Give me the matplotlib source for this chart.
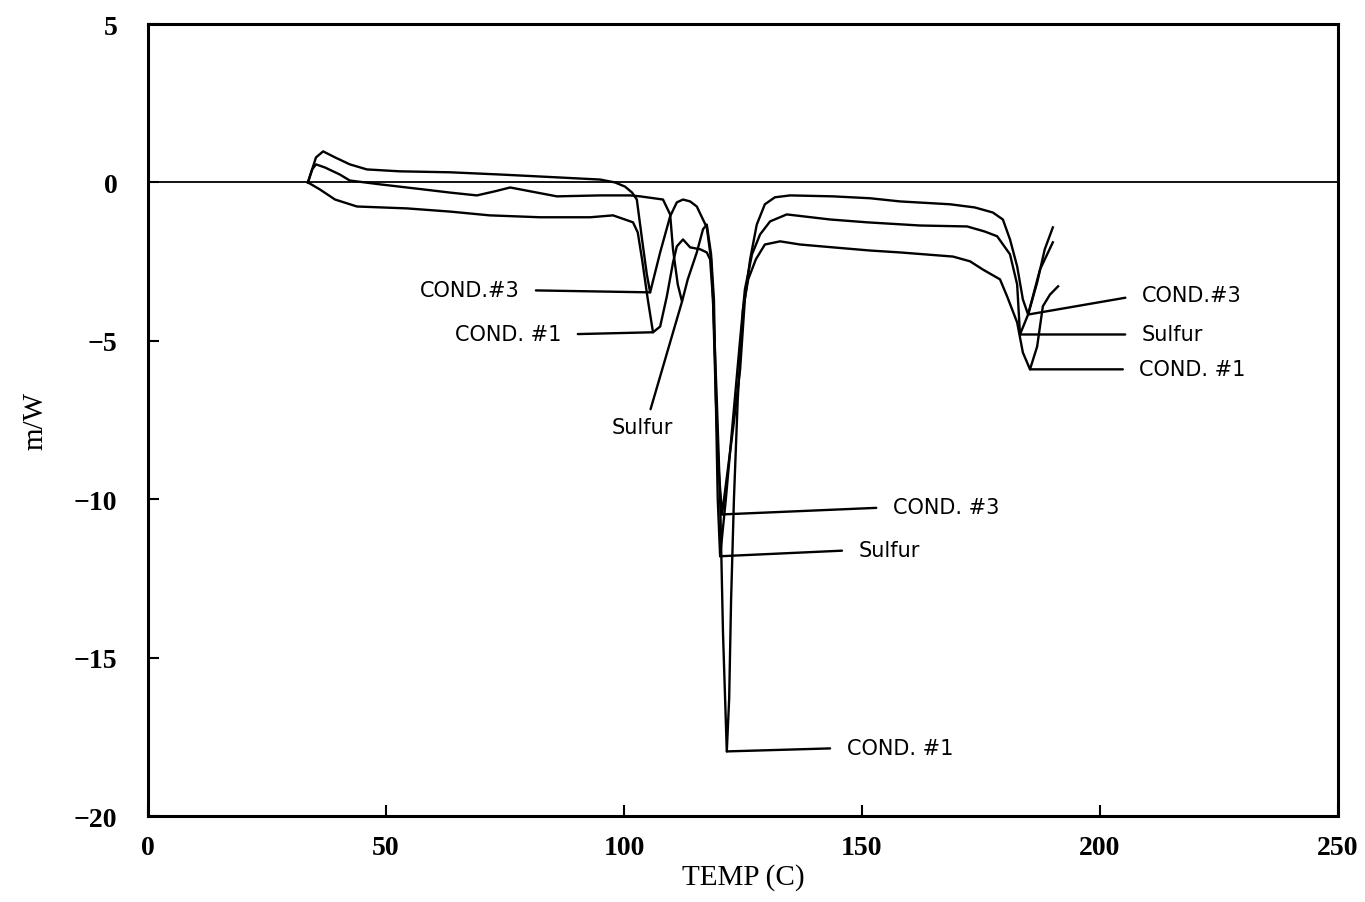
import matplotlib
matplotlib.use("Agg")
import matplotlib.pyplot as plt

# -----------------------------
# Data (TEMP in C, signal in m/W)
# -----------------------------
cond3_temp = [33.6, 35.3, 36.8, 39.3, 42.4, 46.0, 52.9, 63.4, 73.9, 85.9, 95.0, 98.1,
              100.2, 101.7, 102.7, 103.8, 104.8, 105.5, 107.6, 109.7, 111.1, 112.4,
              113.9, 115.3, 116.6, 117.4, 118.3, 118.7, 119.3, 119.9, 120.6, 122.9,
              124.4, 125.4, 126.5, 127.9, 129.6, 131.7, 134.9, 143.9, 151.7, 158.0,
              168.5, 173.7, 177.5, 179.6, 181.1, 182.6, 183.8, 184.9, 186.8, 188.4, 190.1]
cond3_val = [0.0, 0.79, 0.98, 0.79, 0.57, 0.41, 0.35, 0.32, 0.25, 0.16, 0.09, 0.0,
             -0.13, -0.32, -0.54, -1.8, -2.9, -3.47, -2.21, -1.07, -0.63, -0.54,
             -0.6, -0.76, -1.17, -1.42, -2.43, -3.69, -6.85, -9.06, -10.48, -7.8,
             -5.9, -3.69, -2.43, -1.33, -0.69, -0.47, -0.41, -0.44, -0.5, -0.6,
             -0.69, -0.79, -0.95, -1.17, -1.8, -2.65, -3.69, -4.17, -3.16, -2.11, -1.42]

sulfur_temp = [33.6, 34.5, 35.3, 37.2, 40.3, 42.4, 48.7, 57.8, 63.4, 69.1, 72.9, 76.1,
               80.3, 85.9, 95.0, 101.3, 103.4, 108.2, 109.7, 110.3, 111.3, 112.2,
               113.4, 115.3, 116.6, 117.4, 118.3, 118.9, 119.3, 119.7, 120.2, 121.4,
               122.9, 124.4, 125.4, 126.9, 128.6, 130.7, 134.2, 143.3, 151.1, 162.2,
               172.1, 175.8, 178.4, 181.1, 182.6, 183.2, 184.9, 187.4, 190.1]
sulfur_val = [0.0, 0.41, 0.57, 0.47, 0.25, 0.06, -0.06, -0.22, -0.32, -0.41, -0.28, -0.16,
              -0.28, -0.44, -0.41, -0.41, -0.44, -0.54, -1.01, -2.11, -3.22, -3.76,
              -3.06, -2.21, -1.48, -1.33, -2.27, -3.69, -6.85, -10.0, -11.8, -10.0,
              -7.48, -4.96, -3.38, -2.27, -1.64, -1.23, -1.01, -1.17, -1.26, -1.36,
              -1.39, -1.55, -1.7, -2.27, -3.22, -4.8, -4.17, -2.75, -1.89]

cond1_temp = [33.6, 36.1, 39.3, 43.9, 54.4, 63.4, 71.8, 82.4, 92.9, 97.7, 100.2, 101.9,
              102.9, 103.8, 105.0, 106.1, 107.6, 109.0, 110.3, 111.1, 112.4, 113.9,
              116.0, 117.4, 118.1, 118.7, 119.5, 120.2, 120.8, 121.6, 122.1, 122.5,
              123.1, 123.9, 125.0, 126.1, 127.7, 129.6, 132.8, 137.0, 143.9, 151.7,
              158.0, 169.1, 172.7, 175.4, 179.0, 180.5, 182.6, 183.8, 185.3, 186.8,
              188.0, 189.5, 191.2]
cond1_val = [0.0, -0.22, -0.54, -0.76, -0.82, -0.92, -1.04, -1.1, -1.1, -1.04, -1.17, -1.26,
             -1.58, -2.43, -3.69, -4.73, -4.55, -3.6, -2.53, -2.02, -1.8, -2.05,
             -2.11, -2.21, -2.43, -3.69, -6.85, -10.0, -14.2, -17.96, -16.3, -13.2,
             -10.0, -6.85, -4.0, -3.06, -2.43, -1.96, -1.86, -1.96, -2.05, -2.15,
             -2.21, -2.34, -2.49, -2.75, -3.06, -3.6, -4.42, -5.37, -5.9, -5.18,
             -3.91, -3.54, -3.28]

# handwritten labels: text, point on curve, label position, side of text the leader leaves from
label_texts = ["COND.#3", "COND. #1", "Sulfur",
               "COND. #3", "Sulfur", "COND. #1",
               "COND.#3", "Sulfur", "COND. #1"]
label_points = [(105.5, -3.47), (106.1, -4.73), (112.2, -3.76),
                (120.6, -10.48), (120.2, -11.8), (121.6, -17.96),
                (184.9, -4.17), (183.2, -4.8), (185.3, -5.9)]
label_pos = [(78.0, -3.4), (86.8, -4.8), (103.8, -7.73),
             (156.5, -10.25), (149.3, -11.6), (146.8, -17.85),
             (208.8, -3.55), (208.8, -4.8), (208.3, -5.9)]
label_side = ["right", "right", "top",
              "left", "left", "left",
              "left", "left", "left"]

fig = plt.figure(figsize=(13.65, 9.03), dpi=100)
ax = fig.add_axes([0.1084, 0.0952, 0.8718, 0.8771])

for t, v in [(cond3_temp, cond3_val), (sulfur_temp, sulfur_val), (cond1_temp, cond1_val)]:
    ax.plot(t, v, color="black", lw=1.7)

ax.axhline(0, color="black", lw=1.3)

for txt, pt, pos, side in zip(label_texts, label_points, label_pos, label_side):
    if side == "right":
        ha, rel, shr = "right", (1.0, 0.5), 10
    elif side == "left":
        ha, rel, shr = "left", (0.0, 0.5), 10
    else:
        ha, rel, shr = "center", (0.6, 1.0), 4
    ax.annotate(txt, xy=pt, xytext=pos, ha=ha, va="center", fontsize=15,
                family="DejaVu Sans", color="black",
                arrowprops=dict(arrowstyle="-", color="black", lw=1.7,
                                relpos=rel, shrinkA=shr, shrinkB=0))

ax.set_xlim(0, 250)
ax.set_ylim(-20, 5)
ax.set_xticks([0, 50, 100, 150, 200, 250])
ax.set_yticks([5, 0, -5, -10, -15, -20])
ax.tick_params(direction="in", length=8, width=1.5, labelsize=20, pad=14)
ax.tick_params(axis="y", pad=22)
for lab in ax.get_xticklabels() + ax.get_yticklabels():
    lab.set_family("Liberation Serif")
    lab.set_fontweight("bold")
for s in ax.spines.values():
    s.set_linewidth(2.2)

ax.set_xlabel("TEMP (C)", family="Liberation Serif", fontsize=21, labelpad=2)
ax.set_ylabel("m/W", family="Liberation Serif", fontsize=21, labelpad=18)

plt.savefig("out.png", dpi=100)
